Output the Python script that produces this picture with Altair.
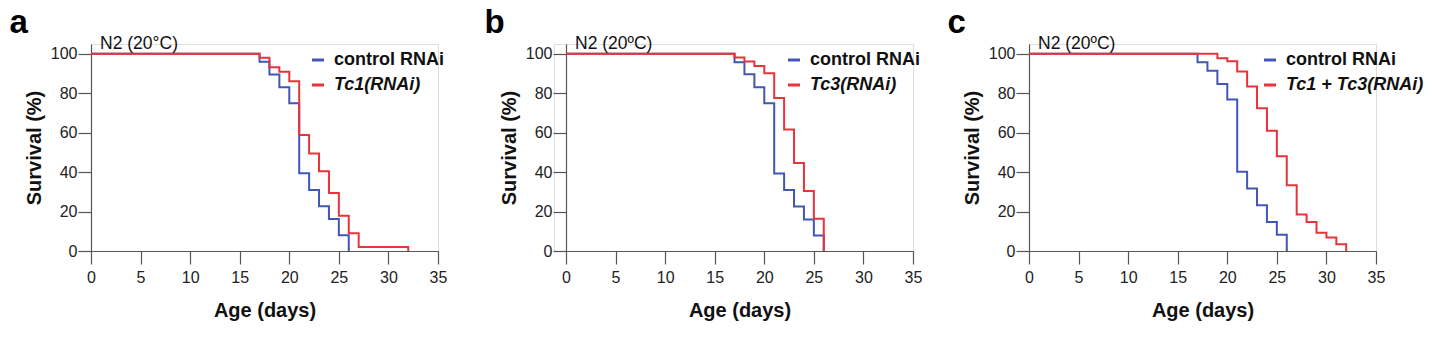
import altair as alt
import pandas as pd

# ---------------- data ----------------
ctrl_days = [0, 17, 18, 19, 20, 21, 22, 23, 24, 25, 26]

a_ctrl = [100, 96, 89.5, 83, 75, 39.5, 31, 22.7, 16.2, 8, 0]
a_trt_days = [0, 17, 18, 19, 20, 21, 22, 23, 24, 25, 26, 27, 32]
a_trt = [100, 98, 93.2, 90.9, 86.1, 58.8, 49.5, 40.4, 29.4, 17.9, 9, 2, 0]

b_ctrl = [100, 95.8, 89.7, 83.1, 75, 39.3, 30.9, 22.6, 16, 7.9, 0]
b_trt_days = [0, 17, 18, 19, 20, 21, 22, 23, 24, 25, 26]
b_trt = [100, 98.1, 96.1, 93.9, 90.2, 77.6, 61.6, 44.7, 30.4, 16.4, 0]

c_ctrl = [100, 95.8, 91.4, 84.7, 76.9, 40.2, 31.7, 23.2, 14.7, 8.3, 0]
c_trt_days = [0, 19, 20, 21, 22, 23, 24, 25, 26, 27, 28, 29, 30, 31, 32]
c_trt = [100, 97.8, 96.3, 91, 83.4, 72.4, 61, 48.1, 33.4, 18.5, 14.7, 9.2, 6.8, 3.4, 0]

letters = ["a", "b", "c"]
conditions = ["N2 (20°C)", "N2 (20ºC)", "N2 (20ºC)"]
treatments = ["Tc1(RNAi)", "Tc3(RNAi)", "Tc1 + Tc3(RNAi)"]
ctrl_label = "control RNAi"
x_ticks = [0, 5, 10, 15, 20, 25, 30, 35]
y_ticks = [0, 20, 40, 60, 80, 100]

BLUE = "#4257b4"
RED = "#e8333b"
FONT = "Liberation Sans"

PW, H = 347, 207

AX = dict(domainColor="#555", tickColor="#555", labelColor="#222", labelFont=FONT,
          labelFontSize=16, titleFont=FONT, titleFontSize=20, titleFontWeight="bold",
          titleColor="#111", grid=False, tickSize=13, domainWidth=1.2, tickWidth=1.2)


def panel(letter, cond, trt, cvals, tdays, tvals, legx, lead=0):
    df = pd.DataFrame({
        "day": ctrl_days + tdays,
        "surv": cvals + tvals,
        "series": [ctrl_label] * len(ctrl_days) + [trt] * len(tdays),
    })
    base = alt.Chart(df)
    x = alt.X("day:Q",
              scale=alt.Scale(domain=[0, 35], nice=False, zero=False,
                              range=[lead, lead + PW]),
              axis=alt.Axis(values=x_ticks, title="Age (days)", labelPadding=5,
                            titlePadding=15, labelFlush=False, **AX))
    y = alt.Y("surv:Q", scale=alt.Scale(domain=[0, 105], nice=False),
              axis=alt.Axis(values=y_ticks, title="Survival (%)", labelPadding=1,
                            titlePadding=6, offset=-lead, **AX))
    color = alt.Color(
        "series:N",
        scale=alt.Scale(domain=[ctrl_label, trt], range=[BLUE, RED]),
        legend=alt.Legend(
            title=None, orient="none", legendX=legx + lead, legendY=7,
            symbolType="stroke", symbolSize=144, symbolStrokeWidth=3,
            labelFont=FONT, labelFontSize=18, labelFontWeight="bold",
            labelColor="#111", labelOffset=7, rowPadding=7, padding=0,
            labelFontStyle=alt.ExprRef(
                f"datum.label == '{ctrl_label}' ? 'normal' : 'italic'"),
            labelLimit=400,
        ),
    )
    blue = base.transform_filter(alt.datum.series == ctrl_label).mark_line(
        interpolate="step-after", strokeWidth=2).encode(x=x, y=y, color=color)
    red = base.transform_filter(alt.datum.series == trt).mark_line(
        interpolate="step-after", strokeWidth=2).encode(x=x, y=y, color=color)
    lab = alt.Chart(pd.DataFrame({"t": [letter]})).mark_text(
        font=FONT, fontSize=33, fontWeight="bold", align="left",
        baseline="alphabetic", color="#000").encode(
        text="t:N", x=alt.value(lead - 81.5), y=alt.value(-11))
    cnd = alt.Chart(pd.DataFrame({"t": [cond]})).mark_text(
        font=FONT, fontSize=17.5, align="left", baseline="alphabetic",
        color="#111").encode(text="t:N", x=alt.value(lead + 9), y=alt.value(5))
    return alt.layer(blue, red, lab, cnd).properties(width=PW + lead, height=H)


pa = panel(letters[0], conditions[0], treatments[0], a_ctrl, a_trt_days, a_trt, 218)
pb = panel(letters[1], conditions[1], treatments[1], b_ctrl, b_trt_days, b_trt, 219, lead=12)
pc = panel(letters[2], conditions[2], treatments[2], c_ctrl, c_trt_days, c_trt, 232)

chart = alt.hconcat(pa, pb, pc, spacing=116, bounds="flush").resolve_scale(
    color="independent").resolve_legend(color="independent").properties(
    padding={"left": 9, "top": 6, "right": 5, "bottom": 5}
).configure_view(stroke=None).configure_axis(**AX).configure(background="white")

chart.save("out.html", embed_options={"renderer": "svg", "actions": False})
